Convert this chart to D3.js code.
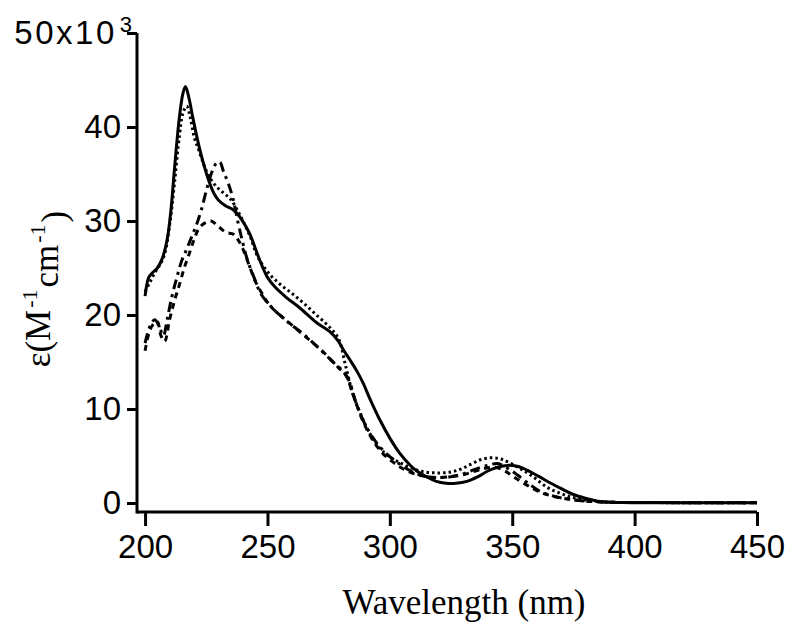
<!DOCTYPE html>
<html>
<head>
<meta charset="utf-8">
<script src="https://cdn.jsdelivr.net/npm/d3@7"></script>
<style>
  html, body { margin: 0; padding: 0; background: #fff; }
  svg { display: block; }
</style>
</head>
<body>
<svg id="chart" width="791" height="630"></svg>
<script>
// ---------- DATA ----------
const xTicks = [200, 250, 300, 350, 400, 450];
const yTicks = [0, 10, 20, 30, 40, 50];

// Series 1 (solid)
const solidX = [200,201.5,203,205,207,209,210.5,212,214,215.5,216.5,218,219.5,222,224,226,228,230,233,236,238.5,241,243,246,248,250,253,258,263,270,275.6,279,281,284,286.6,289,292,296,300,304,308,311,315,319,323,327,331.5,336,340,344,348,352,356,361,365,369.5,375,380,386,395,410,430,450];
const solidY = [22.0,24.0,24.5,25.0,26.0,28.0,31.0,35.5,41.0,43.6,44.3,43.0,41.0,38.0,36.0,34.3,33.0,32.2,31.6,31.2,30.5,29.5,28.5,26.4,25.1,24.0,23.0,21.8,20.8,19.2,18.2,17.2,16.3,15.1,14.0,12.8,11.0,8.8,6.9,5.3,4.1,3.4,2.8,2.3,2.1,2.1,2.3,2.8,3.4,3.8,4.0,3.9,3.5,2.8,2.2,1.6,0.9,0.5,0.15,0.05,0.03,0.02,0.02];

// Series 2 (dotted)
const dottedX = [200,202,204,206,208,210,212,214,215.5,217,218.5,220,222,224,226,229,232,235,238,240,243,246,250,255,260,265,270,275,279,282,285,288,292,296,300,304,309,314,320,325,329,333,337,341,345,348,353,358.5,364,368,372,376,380.5,388,400,450];
const dottedY = [22.5,23.5,24.5,25.3,26.5,29.5,34.0,39.0,41.5,42.2,41.0,39.0,37.5,36.0,34.8,33.7,33.0,32.3,31.0,30.0,28.3,26.2,24.6,23.3,22.3,21.2,20.0,18.8,17.5,14.5,11.5,9.5,7.3,5.8,4.9,4.3,3.7,3.3,3.2,3.3,3.6,4.1,4.6,4.8,4.7,4.4,3.7,2.8,1.7,1.2,0.8,0.5,0.3,0.1,0.05,0.03];

// Series 3 (dash-dot)
const dashDotX = [200,202,204,206,207.5,209,211,213,215,217,219,221,223,225,227,229,230.5,232,234,236,238,240,242,244.5,247,250,255,260,265,270,274,278,281,283.7,286,290,294,298,302,306,310,315,320,325,330,335,340,344,348,352,356,361,366,372,380,390,400,450];
const dashDotY = [17.0,18.8,19.5,18.6,17.8,19.5,22.0,24.0,25.8,27.0,28.3,29.6,31.2,33.2,35.0,36.1,36.3,35.3,34.0,32.3,29.8,27.6,25.7,24.0,22.4,21.3,20.0,18.9,17.9,16.7,15.7,14.7,14.0,12.8,10.8,8.3,6.6,5.4,4.5,3.8,3.2,2.8,2.7,2.8,3.1,3.6,4.0,4.2,3.7,3.0,2.2,1.3,0.8,0.45,0.2,0.08,0.05,0.03];

// Series 4 (dashed)
const dashedX = [200,201.5,203,205,206.5,208,210,212,214,216,218,220,222,224.5,227,230,233,236,238,240,242.5,245,248,251,256,261,266,271,275,279,282,285,289,293,297,301,305,310,315,320,325,330,335,339,343,347,351,356,361,366,372,380,390,400,450];
const dashedY = [16.2,18.0,18.9,19.3,17.8,17.2,19.5,21.5,23.2,25.0,26.5,28.0,29.2,29.8,30.0,29.4,28.8,28.6,28.0,27.0,25.3,23.6,22.2,21.0,19.8,18.7,17.6,16.5,15.5,14.4,13.6,11.5,8.7,6.7,5.3,4.4,3.7,3.1,2.8,2.7,2.8,3.0,3.4,3.7,3.8,3.4,2.7,1.9,1.2,0.75,0.45,0.2,0.08,0.05,0.03];

// ---------- CHART ----------
const svg = d3.select("#chart");
const x = d3.scaleLinear().domain([196.7, 450]).range([137, 757]);
const y = d3.scaleLinear().domain([-0.96, 50]).range([512, 33]);

const line = d3.line().x(d => x(d[0])).y(d => y(d[1])).curve(d3.curveCatmullRom.alpha(0.5));
const zip = (a, b) => a.map((v, i) => [v, b[i]]);

const series = [
  { xs: dashedX, ys: dashedY, dash: "6,5" },
  { xs: dashDotX, ys: dashDotY, dash: "10,5,3,5" },
  { xs: dottedX, ys: dottedY, dash: "2.5,3" },
  { xs: solidX, ys: solidY, dash: null }
];

const plot = svg.append("g");
series.forEach(s => {
  plot.append("path")
    .datum(zip(s.xs, s.ys))
    .attr("d", line)
    .attr("fill", "none")
    .attr("stroke", "#000")
    .attr("stroke-width", 3)
    .attr("stroke-linejoin", "round")
    .attr("stroke-dasharray", s.dash);
});

const tickFont = "Liberation Sans, Arial, sans-serif";

// X axis
const xAxis = svg.append("g")
  .attr("transform", "translate(0,512)")
  .call(d3.axisBottom(x).tickValues(xTicks).tickSize(14).tickSizeOuter(0).tickPadding(9).tickFormat(d3.format("d")));
xAxis.select(".domain").attr("stroke-width", 3).attr("d", "M137,0H757");
xAxis.selectAll(".tick line").attr("stroke-width", 3);
xAxis.selectAll(".tick text")
  .attr("font-family", tickFont)
  .attr("font-size", 33).attr("fill", "#000");

// Y axis
const yAxis = svg.append("g")
  .attr("transform", "translate(137,0)")
  .call(d3.axisLeft(y).tickValues(yTicks).tickSize(10).tickSizeOuter(0).tickPadding(6)
    .tickFormat(d => d === 50 ? "" : String(d)));
yAxis.select(".domain").attr("stroke-width", 3).attr("d", "M0,33V513.5");
yAxis.selectAll(".tick line").attr("stroke-width", 3);
yAxis.selectAll(".tick text")
  .attr("font-family", tickFont)
  .attr("font-size", 33).attr("fill", "#000");
// "50x10" with superscript 3 on the top label
const topLabel = yAxis.selectAll(".tick").filter(d => d === 50).select("text");
topLabel.attr("x", -5);
topLabel.append("tspan").attr("letter-spacing", 2.5).text("50x10");
topLabel.append("tspan").attr("dx", 3).attr("dy", "-0.55em").attr("font-size", 22).text("3");

// Axis titles
svg.append("text")
  .attr("x", 464).attr("y", 614)
  .attr("text-anchor", "middle")
  .attr("font-family", "Liberation Serif, Times New Roman, serif")
  .attr("font-size", 35)
  .text("Wavelength (nm)");

const yt = svg.append("text")
  .attr("transform", "translate(50,289) rotate(-90)")
  .attr("text-anchor", "middle")
  .attr("font-family", "Liberation Serif, Times New Roman, serif")
  .attr("font-size", 35);
yt.append("tspan").text("ε(M");
yt.append("tspan").attr("dx", 2).attr("dy", "-0.6em").attr("font-size", 22).text("-1");
yt.append("tspan").attr("dx", 2).attr("dy", "0.6em").text("cm");
yt.append("tspan").attr("dx", 2).attr("dy", "-0.6em").attr("font-size", 22).text("-1");
yt.append("tspan").attr("dx", 2).attr("dy", "0.6em").text(")");
</script>
</body>
</html>
